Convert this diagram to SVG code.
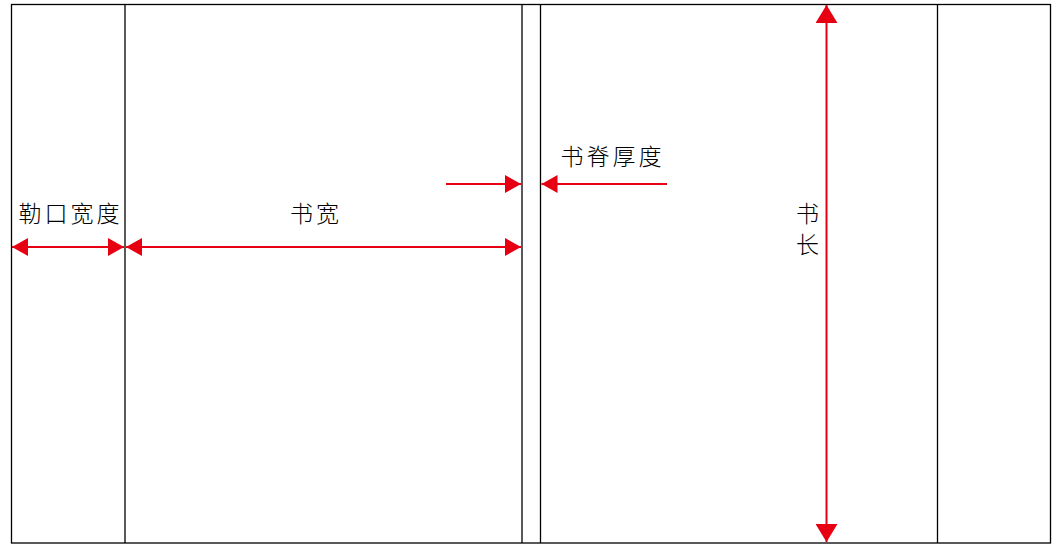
<svg xmlns="http://www.w3.org/2000/svg" width="1060" height="554" viewBox="0 0 1060 554">
<defs>
<style>
.frame{fill:none;stroke:#000;stroke-width:1.3}
.ln{stroke:#000;stroke-width:1.3}
.dim{stroke:#e60012;stroke-width:2;fill:none}
.ah{fill:#e60012}
.lbl{font-family:"Noto Sans CJK SC","Noto Sans CJK JP",sans-serif;font-size:23px;font-weight:300;fill:#000;text-anchor:middle;dominant-baseline:central;letter-spacing:3px}
</style>
<marker id="arr" viewBox="0 0 16 18" refX="16" refY="9" markerWidth="16" markerHeight="18" markerUnits="userSpaceOnUse" orient="auto-start-reverse">
<path d="M0,0 L16,9 L0,18 Z" class="ah"/>
</marker>
<marker id="arrV" viewBox="0 0 18 22" refX="18" refY="11" markerWidth="18" markerHeight="22" markerUnits="userSpaceOnUse" orient="auto-start-reverse">
<path d="M0,0 L18,11 L0,22 Z" class="ah"/>
</marker>
</defs>
<g id="layout">
<rect class="frame" x="11.5" y="4.5" width="1039" height="538.5"/>
<line class="ln" x1="125" y1="4.5" x2="125" y2="543" stroke-width="1.6"/>
<line class="ln" x1="522" y1="4.5" x2="522" y2="543"/>
<line class="ln" x1="540.5" y1="4.5" x2="540.5" y2="543"/>
<line class="ln" x1="937.5" y1="4.5" x2="937.5" y2="543"/>
</g>
<g id="connectors">
<line class="dim" x1="12" y1="247" x2="124" y2="247" marker-start="url(#arr)" marker-end="url(#arr)"/>
<line class="dim" x1="126" y1="247" x2="521" y2="247" marker-start="url(#arr)" marker-end="url(#arr)"/>
<line class="dim" x1="446" y1="184" x2="521" y2="184" marker-end="url(#arr)"/>
<line class="dim" x1="667" y1="184" x2="541.5" y2="184" marker-end="url(#arr)"/>
<line class="dim" x1="826.5" y1="5" x2="826.5" y2="542" marker-start="url(#arrV)" marker-end="url(#arrV)"/>
</g>
<g id="label-flap"><text class="lbl" x="70.5" y="212">勒口宽度</text></g>
<g id="label-width"><text class="lbl" x="316" y="212">书宽</text></g>
<g id="label-spine"><text class="lbl" x="612.5" y="155">书脊厚度</text></g>
<g id="label-length"><text class="lbl" x="809" y="212">书</text><text class="lbl" x="809" y="243">长</text></g>
</svg>
